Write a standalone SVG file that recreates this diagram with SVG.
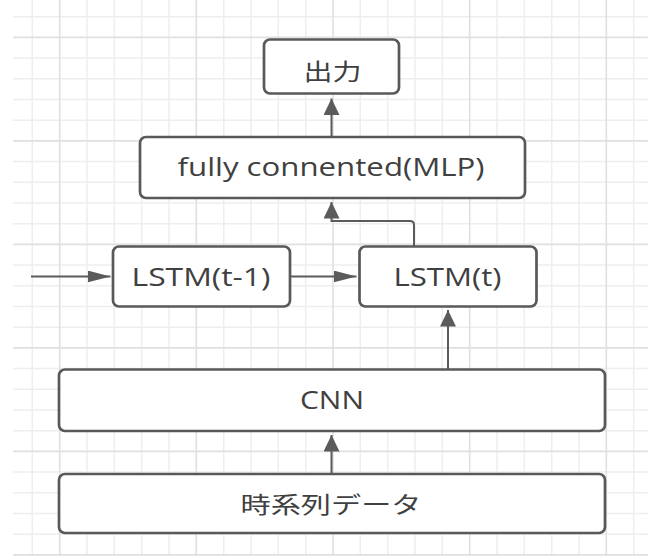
<svg xmlns="http://www.w3.org/2000/svg" width="648" height="557" viewBox="0 0 648 557">
<style>
  .gmin { stroke: #eeeeee; stroke-width: 1.5; fill: none; }
  .gmaj { stroke: #e0e0e0; stroke-width: 1.6; fill: none; }
  .box { fill: #ffffff; stroke: #595959; stroke-width: 2.7; }
  .lbl { font-family: "Open Sans", "Noto Sans CJK JP", sans-serif; font-size: 25px; fill: #404040; text-anchor: middle; }
  .cjk { font-family: "Noto Sans CJK JP", "Open Sans", sans-serif; font-size: 23px; fill: #404040; text-anchor: middle; dominant-baseline: central; }
  .conn { fill: none; stroke: #5b5b5b; stroke-width: 2; }
</style>
<defs>
  <marker id="arrV" markerUnits="userSpaceOnUse" markerWidth="17" markerHeight="16" refX="16.5" refY="8" orient="auto">
    <path d="M0,0 L16.5,8 L0,16 z" fill="#5b5b5b"/>
  </marker>
  <marker id="arrH" markerUnits="userSpaceOnUse" markerWidth="23" markerHeight="12" refX="23" refY="6" orient="auto">
    <path d="M0,0 L23,6 L0,12 z" fill="#5b5b5b"/>
  </marker>
</defs>
<rect width="648" height="557" fill="#ffffff"/>
<g id="grid">
  <path class="gmin" d="M32.3 0V556M87 0V556M114.3 0V556M141.7 0V556M169 0V556M223.7 0V556M251 0V556M278.3 0V556M305.7 0V556M360.3 0V556M387.7 0V556M415 0V556M442.3 0V556M497 0V556M524.3 0V556M551.7 0V556M579 0V556M633.7 0V556"/>
  <path class="gmin" d="M13 16.7H648M13 58.1H648M13 78.8H648M13 99.5H648M13 120.2H648M13 161.6H648M13 182.3H648M13 203H648M13 223.7H648M13 265.1H648M13 285.8H648M13 306.5H648M13 327.2H648M13 368.6H648M13 389.3H648M13 410H648M13 430.7H648M13 472.1H648M13 492.8H648M13 513.5H648M13 534.2H648"/>
  <path class="gmaj" d="M59.7 0V556M196.3 0V556M333 0V556M469.7 0V556M606.3 0V556"/>
  <path class="gmaj" d="M13 37.4H648M13 140.9H648M13 244.4H648M13 347.9H648M13 451.4H648M13 554.9H648"/>
</g>
<g id="connectors">
  <path class="conn" d="M331.5 137V98.5" marker-end="url(#arrV)"/>
  <path class="conn" d="M414 246.5V225Q414 221 410 221H331.5V202" marker-end="url(#arrV)"/>
  <path class="conn" d="M448 369.5V310" marker-end="url(#arrV)"/>
  <path class="conn" d="M331.5 474V435" marker-end="url(#arrV)"/>
  <path class="conn" d="M31 276.5H110.5" marker-end="url(#arrH)"/>
  <path class="conn" d="M290 276.5H356.5" marker-end="url(#arrH)"/>
</g>
<g id="output">
  <rect class="box" x="264" y="39.5" width="135" height="54" rx="6"/>
  <text class="cjk" x="332.5" y="70" textLength="58" lengthAdjust="spacingAndGlyphs">出力</text>
</g>
<g id="mlp">
  <rect class="box" x="140" y="137" width="385" height="61" rx="6"/>
  <text class="lbl" x="331" y="175.5" textLength="307" lengthAdjust="spacingAndGlyphs">fully connented(MLP)</text>
</g>
<g id="lstm_prev">
  <rect class="box" x="113" y="246.5" width="177" height="60" rx="6"/>
  <text class="lbl" x="201" y="285.7" textLength="139" lengthAdjust="spacingAndGlyphs">LSTM(t-1)</text>
</g>
<g id="lstm_t">
  <rect class="box" x="359.5" y="246.5" width="177" height="60" rx="6"/>
  <text class="lbl" x="447.5" y="285.7" textLength="108" lengthAdjust="spacingAndGlyphs">LSTM(t)</text>
</g>
<g id="cnn">
  <rect class="box" x="59" y="369.5" width="546" height="61.5" rx="6"/>
  <text class="lbl" x="332" y="409" textLength="64" lengthAdjust="spacingAndGlyphs">CNN</text>
</g>
<g id="data">
  <rect class="box" x="59" y="474" width="546" height="59" rx="6"/>
  <text class="cjk" x="331" y="503" textLength="181" lengthAdjust="spacingAndGlyphs">時系列データ</text>
</g>
</svg>
